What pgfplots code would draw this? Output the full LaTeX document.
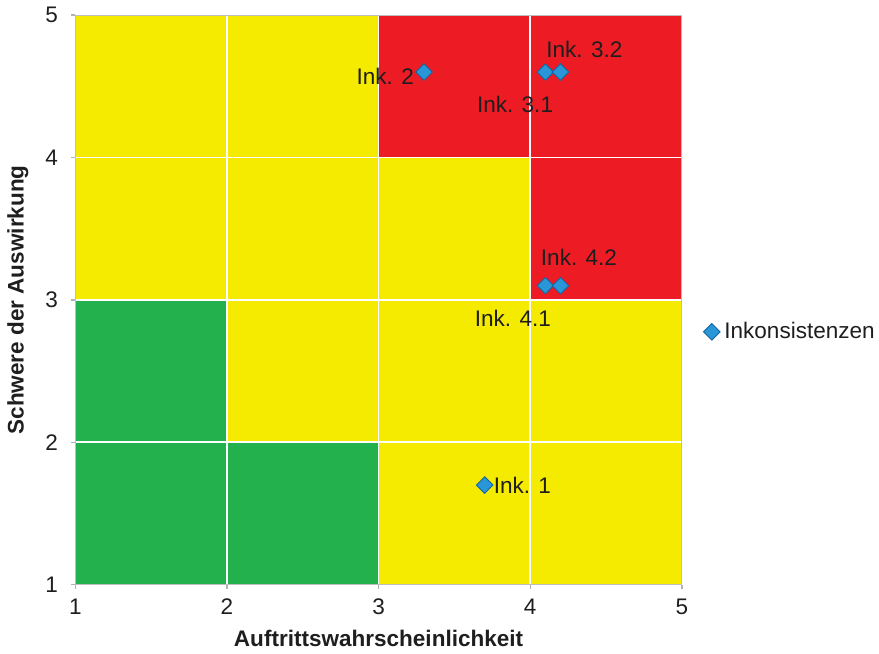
\documentclass[border=0pt]{standalone}
\usepackage{pgfplots}
\pgfplotsset{compat=1.18}
\usepackage{fontspec}
\setmainfont{Liberation Sans}
\definecolor{myyellow}{RGB}{245,235,0}
\definecolor{myred}{RGB}{237,28,36}
\definecolor{mygreen}{RGB}{34,177,76}
\definecolor{myblue}{RGB}{40,150,215}
\definecolor{mydarkblue}{RGB}{20,100,160}
\definecolor{txt}{RGB}{30,30,30}
\begin{document}
\begin{tikzpicture}
\begin{axis}[
  scale only axis,
  width=280pt, height=263pt,
  xmin=1, xmax=5, ymin=1, ymax=5,
  xtick={1,2,3,4,5}, ytick={1,2,3,4,5},
  tick pos=left,
  axis background/.style={fill=myyellow},
  grid=major,
  major grid style={white, line width=0.8pt},
  axis on top,
  axis line style={draw=black!25},
  tick style={draw=black!30, line width=0.6pt},
  tick align=outside,
  major tick length=2pt,
  tick label style={font=\fontsize{10.4}{12}\selectfont, text=txt},
  yticklabel style={xshift=-2.5pt},
  xticklabel style={yshift=-1pt},
  /pgf/number format/assume math mode=true,
  xlabel={\bfseries Auftrittswahrscheinlichkeit},
  ylabel={\bfseries Schwere der Auswirkung},
  label style={font=\fontsize{10.4}{12}\selectfont, text=txt},
  xlabel style={yshift=0pt},
  ylabel style={yshift=1pt},
  legend style={at={(1.035,0.444)}, anchor=west, draw=none, fill=none,
    font=\fontsize{10.4}{12}\selectfont, text=txt, inner sep=0pt},
  legend cell align=left,
  legend image code/.code={\draw[#1] (0pt,0pt) plot coordinates {(0pt,0pt)};},
  clip=false,
]
\addplot[fill=myred, draw=none, forget plot] coordinates {(3,4) (5,4) (5,5) (3,5)} -- cycle;
\addplot[fill=myred, draw=none, forget plot] coordinates {(4,3) (5,3) (5,4) (4,4)} -- cycle;
\addplot[fill=mygreen, draw=none, forget plot] coordinates {(1,1) (2,1) (2,3) (1,3)} -- cycle;
\addplot[fill=mygreen, draw=none, forget plot] coordinates {(2,1) (3,1) (3,2) (2,2)} -- cycle;

\addplot[only marks, mark=square*, mark size=2.7pt,
  mark options={rotate=45, fill=myblue, draw=mydarkblue, line width=0.4pt}]
  coordinates {(3.7,1.7) (3.3,4.6) (4.1,4.6) (4.2,4.6) (4.1,3.1) (4.2,3.1)};
\addlegendentry{Inkonsistenzen}

\pgfplotsset{lbl/.style={only marks, mark=none, forget plot, point meta=explicit symbolic,
  nodes near coords, nodes near coords style={font=\fontsize{10.4}{12}\selectfont, text=txt, inner sep=0pt}}}
\addplot[lbl, nodes near coords style={anchor=west, xshift=4pt}] coordinates {(3.7,1.7) [Ink. 1]};
\addplot[lbl, nodes near coords style={anchor=east, xshift=-4.5pt, yshift=-2pt}] coordinates {(3.3,4.6) [Ink. 2]};
\addplot[lbl, nodes near coords style={anchor=center, xshift=-14pt, yshift=-15pt}] coordinates {(4.1,4.6) [Ink. 3.1]};
\addplot[lbl, nodes near coords style={anchor=center, xshift=11pt, yshift=10.5pt}] coordinates {(4.2,4.6) [Ink. 3.2]};
\addplot[lbl, nodes near coords style={anchor=center, xshift=-15pt, yshift=-15pt}] coordinates {(4.1,3.1) [Ink. 4.1]};
\addplot[lbl, nodes near coords style={anchor=center, xshift=8.5pt, yshift=13pt}] coordinates {(4.2,3.1) [Ink. 4.2]};
\end{axis}
\end{tikzpicture}
\end{document}
